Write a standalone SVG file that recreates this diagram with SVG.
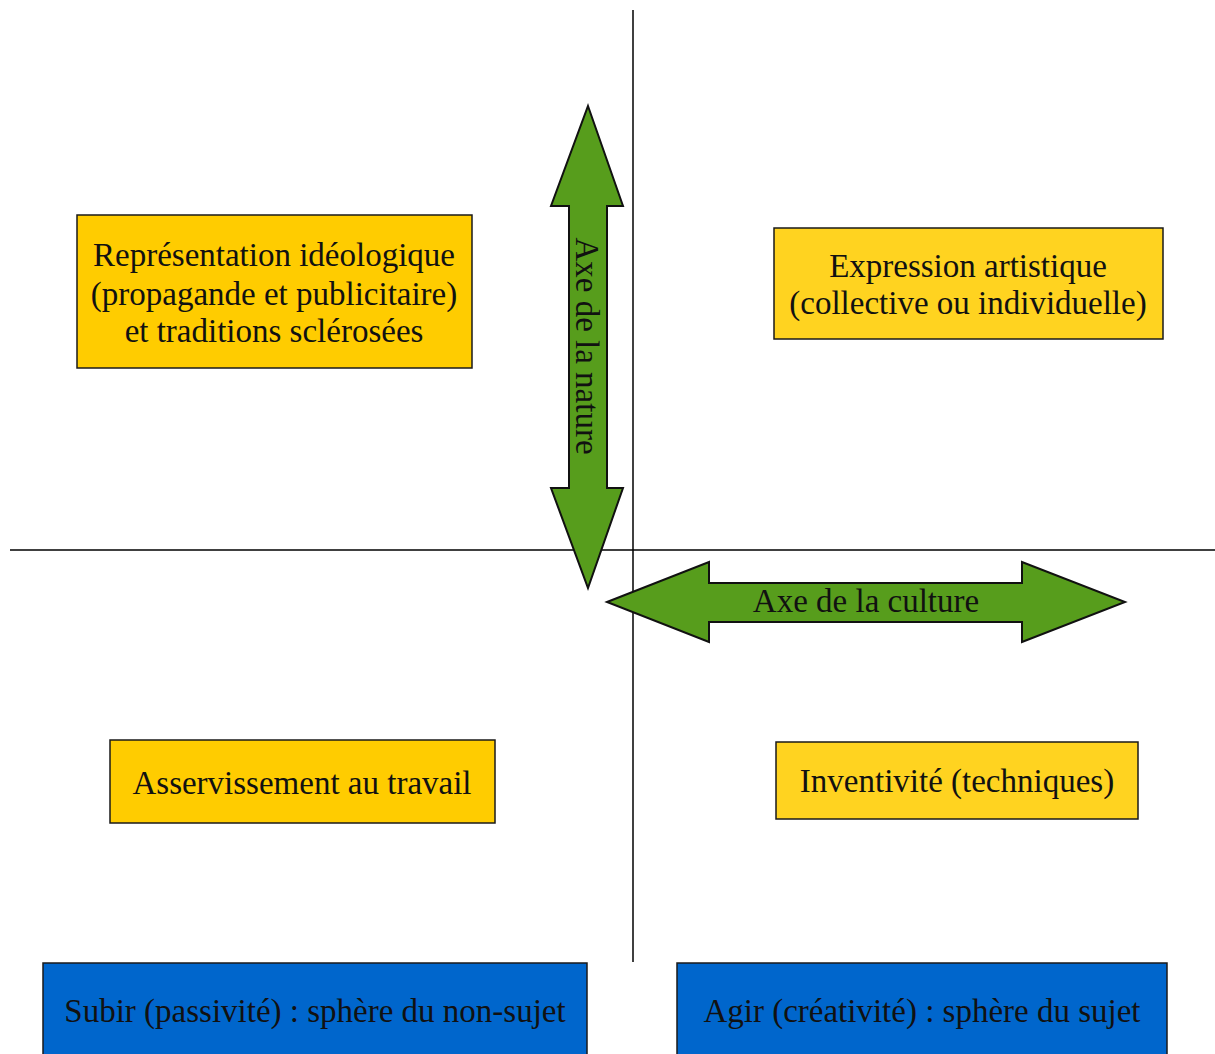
<svg xmlns="http://www.w3.org/2000/svg" width="1215" height="1054" viewBox="0 0 1215 1054">
<style>
.box{stroke:#1a1a1a;stroke-width:1.5}
.y1{fill:#ffcc00}
.y2{fill:#ffd320}
.b{fill:#0066cc}
.arrow{fill:#579d1c;stroke:#111;stroke-width:2;stroke-linejoin:miter}
.axis{stroke:#000;stroke-width:1.5;fill:none}
text{font-family:"Liberation Serif","Times New Roman",serif;font-size:33px;fill:#111;text-anchor:middle}
</style>
<rect width="1215" height="1054" fill="#fff"/>
<g id="connectors">
<line class="axis" x1="633" y1="10" x2="633" y2="962"/>
<line class="axis" x1="10" y1="550" x2="1215" y2="550"/>
</g>
<g id="axe-nature">
<path class="arrow" d="M588,106 L623,206 L607,206 L607,488 L623,488 L588,588 L551,488 L569,488 L569,206 L551,206 Z"/>
<text transform="translate(576,346) rotate(90)">Axe de la nature</text>
</g>
<g id="axe-culture">
<path class="arrow" d="M607,602 L709,562 L709,583 L1022,583 L1022,562 L1125,602 L1022,642 L1022,622 L709,622 L709,642 Z"/>
<text x="866" y="612">Axe de la culture</text>
</g>
<g id="representation">
<rect class="box y1" x="77" y="215" width="395" height="153"/>
<text x="274" y="266">Représentation idéologique</text>
<text x="274" y="305">(propagande et publicitaire)</text>
<text x="274" y="342">et traditions sclérosées</text>
</g>
<g id="expression">
<rect class="box y2" x="774" y="228" width="389" height="111"/>
<text x="968" y="277">Expression artistique</text>
<text x="968" y="314">(collective ou individuelle)</text>
</g>
<g id="asservissement">
<rect class="box y1" x="110" y="740" width="385" height="83"/>
<text x="302" y="794">Asservissement au travail</text>
</g>
<g id="inventivite">
<rect class="box y2" x="776" y="742" width="362" height="77"/>
<text x="957" y="792">Inventivité (techniques)</text>
</g>
<g id="subir">
<rect class="box b" x="43" y="963" width="544" height="100"/>
<text x="315" y="1022">Subir (passivité) : sphère du non-sujet</text>
</g>
<g id="agir">
<rect class="box b" x="677" y="963" width="490" height="100"/>
<text x="922" y="1022">Agir (créativité) : sphère du sujet</text>
</g>
</svg>
